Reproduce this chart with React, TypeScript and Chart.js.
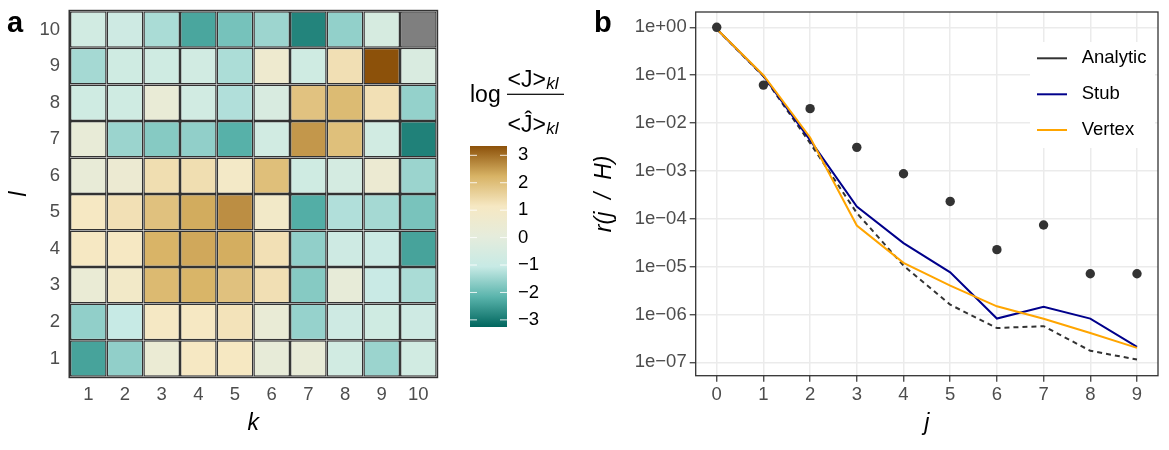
import React, { useEffect, useRef } from "react";
import { Chart, registerables } from "chart.js";

Chart.register(...registerables);

const FONT = "'Liberation Sans', Arial, Helvetica, sans-serif";
Chart.defaults.font.family = FONT;
Chart.defaults.color = "#4D4D4D";

// ---- Panel a: log ratio of observed to expected mean joint counts ----
const kClasses = ["1", "2", "3", "4", "5", "6", "7", "8", "9", "10"];
const lClasses = [1, 2, 3, 4, 5, 6, 7, 8, 9, 10];
const lTickLabels = ["1", "2", "3", "4", "5", "6", "7", "8", "9", "10"];

// one row per l class, columns follow k = 1..10 (null = not estimable)
const logRatioL1 = [-2.4, -1.6, 0.4, 1.14, 1.15, 0.2, 0.25, -0.7, -1.5, -0.7];
const logRatioL2 = [-1.6, -1.05, 1.1, 1.14, 1.25, 0.3, -1.55, -0.8, -0.75, -0.8];
const logRatioL3 = [0.35, 0.9, 2.1, 2.2, 1.95, 1.32, -1.72, 0.2, -1.0, -1.35];
const logRatioL4 = [1.14, 1.14, 2.22, 2.36, 2.3, 1.3, -1.6, -0.8, -0.9, -2.4];
const logRatioL5 = [1.14, 1.3, 1.95, 2.32, 2.65, 0.9, -2.25, -1.28, -1.4, -1.85];
const logRatioL6 = [0.25, 0.5, 1.35, 1.35, 0.95, 2.0, -0.75, -0.6, 0.5, -1.5];
const logRatioL7 = [0.25, -1.5, -1.72, -1.6, -2.2, -0.7, 2.55, 1.98, -0.7, -2.88];
const logRatioL8 = [-0.75, -0.75, 0.3, -0.7, -1.28, -0.45, 1.92, 2.08, 1.3, -1.57];
const logRatioL9 = [-1.4, -0.75, -0.75, -0.7, -1.33, 0.6, -0.75, 1.32, 3.34, -0.4];
const logRatioL10 = [-0.7, -0.8, -1.35, -2.36, -1.88, -1.48, -2.84, -1.59, -0.5, null];
const logRatioRows: (number | null)[][] = [
  logRatioL1, logRatioL2, logRatioL3, logRatioL4, logRatioL5,
  logRatioL6, logRatioL7, logRatioL8, logRatioL9, logRatioL10,
];

const colorbarBreaks = [-3, -2, -1, 0, 1, 2, 3];
const colorbarLabels = ["\u22123", "\u22122", "\u22121", "0", "1", "2", "3"];
const colorLimits = [-3.26, 3.34];
const paletteStops = ["#01665E", "#5AB4AC", "#C7EAE5", "#E5ECDC", "#F6E8C3", "#D8B365", "#8C510A"];
const missingFill = "#7F7F7F";

// ---- Panel b: r(j / H) by j ----
const jValues = [0, 1, 2, 3, 4, 5, 6, 7, 8, 9];
const jTickLabels = ["0", "1", "2", "3", "4", "5", "6", "7", "8", "9"];
const rTickValues = [1, 1e-1, 1e-2, 1e-3, 1e-4, 1e-5, 1e-6, 1e-7];
const rTickLabels = ["1e+00", "1e\u221201", "1e\u221202", "1e\u221203", "1e\u221204", "1e\u221205", "1e\u221206", "1e\u221207"];
const rObserved = [1.0, 0.062, 0.02, 0.0031, 8.7e-4, 2.3e-4, 2.26e-5, 7.4e-5, 7.1e-6, 7.1e-6];
const rAnalytic = [0.92, 0.095, 0.0038, 1.32e-4, 1.05e-5, 1.6e-6, 5.2e-7, 5.7e-7, 1.74e-7, 1.14e-7];
const rStub = [0.92, 0.097, 0.0044, 1.8e-4, 3.1e-5, 7.6e-6, 8.2e-7, 1.44e-6, 8.2e-7, 2.1e-7];
const rVertex = [0.92, 0.1, 0.005, 7.2e-5, 1.2e-5, 4.0e-6, 1.48e-6, 8.1e-7, 4.1e-7, 2.0e-7];
const seriesNames = ["Analytic", "Stub", "Vertex"];
const seriesColors = ["#333333", "#00008B", "#FFA500"];

function hexToRgb(h: string): number[] {
  const n = parseInt(h.slice(1), 16);
  return [(n >> 16) & 255, (n >> 8) & 255, n & 255];
}

function fillFor(v: number | null): string {
  if (v === null || v === undefined) return missingFill;
  const [lo, hi] = colorLimits;
  const t = Math.min(1, Math.max(0, (v - lo) / (hi - lo)));
  const n = paletteStops.length - 1;
  const pos = t * n;
  const i = Math.min(n - 1, Math.floor(pos));
  const f = pos - i;
  const a = hexToRgb(paletteStops[i]);
  const b = hexToRgb(paletteStops[i + 1]);
  const c = a.map((x, k) => Math.round(x + (b[k] - x) * f));
  return `rgb(${c[0]},${c[1]},${c[2]})`;
}

const tickFont = { size: 18.5, family: FONT };
const titleFont = { size: 23, style: "italic" as const, family: FONT };
const tileBorder = 1.5;

// outline, colour bar, fill title and panel tag for the heatmap
const heatOverlay = {
  id: "heatOverlay",
  afterDraw(chart: any) {
    const ctx = chart.ctx as CanvasRenderingContext2D;
    const area = chart.chartArea;
    ctx.save();
    ctx.strokeStyle = "#333333";
    ctx.lineWidth = tileBorder;
    const h = tileBorder / 2;
    ctx.strokeRect(area.left - h, area.top - h, area.right - area.left + tileBorder, area.bottom - area.top + tileBorder);

    // colour bar
    const barX = 470, barW = 37, barTop = 146, barBottom = 327;
    const grad = ctx.createLinearGradient(0, barBottom, 0, barTop);
    paletteStops.forEach((c, i) => grad.addColorStop(i / (paletteStops.length - 1), c));
    ctx.fillStyle = grad;
    ctx.fillRect(barX, barTop, barW, barBottom - barTop);
    const [lo, hi] = colorLimits;
    ctx.strokeStyle = "rgba(255,255,255,0.85)";
    ctx.lineWidth = 1;
    ctx.font = `18.5px ${FONT}`;
    ctx.fillStyle = "#000000";
    ctx.textAlign = "left";
    ctx.textBaseline = "middle";
    colorbarBreaks.forEach((v, i) => {
      const y = barBottom - ((v - lo) / (hi - lo)) * (barBottom - barTop);
      ctx.beginPath();
      ctx.moveTo(barX, y);
      ctx.lineTo(barX + 7, y);
      ctx.moveTo(barX + barW - 7, y);
      ctx.lineTo(barX + barW, y);
      ctx.stroke();
      ctx.fillText(colorbarLabels[i], 518, y);
    });

    // fill title: log <J>_kl / <Ĵ>_kl
    ctx.textBaseline = "alphabetic";
    ctx.font = `23px ${FONT}`;
    ctx.fillText("log", 470, 101.7);
    ctx.fillText("<J>", 507.5, 86.7);
    const wNum = ctx.measureText("<J>").width;
    ctx.fillText("<\u0134>", 507.5, 131.7);
    const wDen = ctx.measureText("<\u0134>").width;
    ctx.fillRect(507, 93.7, 57, 1.2);
    ctx.font = `italic 17px ${FONT}`;
    ctx.fillText("kl", 507.5 + wNum + 0.5, 89.3);
    ctx.fillText("kl", 507.5 + wDen + 0.5, 134.2);

    // panel tag
    ctx.font = `bold 29px ${FONT}`;
    ctx.fillText("a", 7, 31.7);
    ctx.restore();
  },
};

// panel border, key and panel tag for the line chart
const lineOverlay = {
  id: "lineOverlay",
  afterDraw(chart: any) {
    const ctx = chart.ctx as CanvasRenderingContext2D;
    const area = chart.chartArea;
    ctx.save();
    ctx.strokeStyle = "#333333";
    ctx.lineWidth = 1.3;
    ctx.strokeRect(area.left, area.top, area.right - area.left, area.bottom - area.top);

    // key
    ctx.fillStyle = "#FFFFFF";
    ctx.fillRect(440, 42, 125, 106);
    const keyY = [58.3, 94.3, 130];
    ctx.font = `18.5px ${FONT}`;
    ctx.textAlign = "left";
    ctx.textBaseline = "middle";
    seriesNames.forEach((name, i) => {
      ctx.strokeStyle = seriesColors[i];
      ctx.lineWidth = 2;
      ctx.beginPath();
      ctx.moveTo(447, keyY[i]);
      ctx.lineTo(477, keyY[i]);
      ctx.stroke();
      ctx.fillStyle = "#000000";
      ctx.fillText(name, 491.7, keyY[i]);
    });

    ctx.textBaseline = "alphabetic";
    ctx.fillStyle = "#000000";
    ctx.font = `bold 29px ${FONT}`;
    ctx.fillText("b", 4, 31.7);
    ctx.restore();
  },
};

export default function App() {
  const heatRef = useRef<HTMLCanvasElement>(null);
  const lineRef = useRef<HTMLCanvasElement>(null);

  useEffect(() => {
    document.body.style.margin = "0";

    const heatDatasets = lClasses.map((l, r) => ({
      label: `l = ${l}`,
      data: logRatioRows[r].map(() => [l - 0.5, l + 0.5]),
      backgroundColor: logRatioRows[r].map(fillFor),
      borderColor: "#333333",
      borderWidth: tileBorder,
      borderSkipped: false,
      inflateAmount: 0,
      barPercentage: 1,
      categoryPercentage: 1,
      grouped: false,
    }));

    const heat = new Chart(heatRef.current as HTMLCanvasElement, {
      type: "bar",
      data: { labels: kClasses, datasets: heatDatasets as any },
      options: {
        animation: false,
        responsive: false,
        events: [],
        layout: { padding: { left: 0, right: 153.3, top: 11.3, bottom: 0 } },
        plugins: { legend: { display: false }, tooltip: { enabled: false } },
        scales: {
          x: {
            type: "category",
            offset: true,
            grid: { display: false, drawTicks: false },
            border: { display: false },
            ticks: { color: "#4D4D4D", font: tickFont, padding: 7.2, maxRotation: 0, autoSkip: false },
            title: { display: true, text: "k", color: "#000000", font: titleFont, padding: { top: 0, bottom: 12.2 } },
            afterFit: (s: any) => {
              s.height = 73.3;
              s.paddingLeft = 0;
              s.paddingRight = 0;
            },
          },
          y: {
            type: "linear",
            min: 0.5,
            max: 10.5,
            afterBuildTicks: (s: any) => {
              s.ticks = lClasses.map((v) => ({ value: v }));
            },
            grid: { display: false, drawTicks: false },
            border: { display: false },
            ticks: {
              color: "#4D4D4D",
              font: tickFont,
              padding: 10,
              callback: (_v: any, i: number) => lTickLabels[i],
            },
            title: { display: true, text: "l", color: "#000000", font: titleFont, padding: { top: 6.2, bottom: 0 } },
            afterFit: (s: any) => {
              s.width = 70;
              s.paddingTop = 0;
              s.paddingBottom = 0;
            },
          },
        },
      },
      plugins: [heatOverlay],
    });

    const toPoints = (vals: number[]) => jValues.map((j, i) => ({ x: j, y: vals[i] }));
    const gridStyle = {
      color: "#EBEBEB",
      lineWidth: 1.5,
      tickColor: "#333333",
      tickLength: 6,
      tickWidth: 1.2,
    };

    const line = new Chart(lineRef.current as HTMLCanvasElement, {
      type: "line",
      data: {
        datasets: [
          {
            label: "Observed",
            data: toPoints(rObserved),
            showLine: false,
            pointRadius: 4.7,
            pointBackgroundColor: "#333333",
            pointBorderWidth: 0,
            order: 0,
          },
          {
            label: seriesNames[0],
            data: toPoints(rAnalytic),
            borderColor: seriesColors[0],
            borderWidth: 2,
            borderDash: [5, 4],
            pointRadius: 0,
            tension: 0,
            order: 3,
          },
          {
            label: seriesNames[1],
            data: toPoints(rStub),
            borderColor: seriesColors[1],
            borderWidth: 2,
            pointRadius: 0,
            tension: 0,
            order: 2,
          },
          {
            label: seriesNames[2],
            data: toPoints(rVertex),
            borderColor: seriesColors[2],
            borderWidth: 2,
            pointRadius: 0,
            tension: 0,
            order: 1,
          },
        ] as any,
      },
      options: {
        animation: false,
        responsive: false,
        events: [],
        layout: { padding: { left: 0, right: 11, top: 12, bottom: 0 } },
        plugins: { legend: { display: false }, tooltip: { enabled: false } },
        scales: {
          x: {
            type: "linear",
            min: -0.45,
            max: 9.45,
            afterBuildTicks: (s: any) => {
              s.ticks = jValues.map((v) => ({ value: v }));
            },
            grid: gridStyle,
            border: { display: false },
            ticks: {
              color: "#4D4D4D",
              font: tickFont,
              padding: 2.2,
              maxRotation: 0,
              callback: (_v: any, i: number) => jTickLabels[i],
            },
            title: { display: true, text: "j", color: "#000000", font: titleFont, padding: { top: 0, bottom: 12.2 } },
            afterFit: (s: any) => {
              s.height = 74.3;
              s.paddingLeft = 0;
              s.paddingRight = 0;
            },
          },
          y: {
            type: "logarithmic",
            min: 5.25e-8,
            max: 2.09,
            afterBuildTicks: (s: any) => {
              s.ticks = rTickValues.map((v) => ({ value: v }));
            },
            grid: gridStyle,
            border: { display: false },
            ticks: {
              color: "#4D4D4D",
              font: tickFont,
              padding: 3,
              callback: (_v: any, i: number) => rTickLabels[i],
            },
            title: { display: true, text: "r(j  /  H)", color: "#000000", font: titleFont, padding: { top: 1.2, bottom: 0 } },
            afterFit: (s: any) => {
              s.width = 105.7;
              s.paddingTop = 0;
              s.paddingBottom = 0;
            },
          },
        },
      },
      plugins: [lineOverlay],
    });

    return () => {
      heat.destroy();
      line.destroy();
    };
  }, []);

  return (
    <div style={{ position: "relative", width: 1169, height: 450, background: "#FFFFFF", overflow: "hidden" }}>
      <canvas ref={heatRef} width={590} height={450} style={{ position: "absolute", left: 0, top: 0, width: 590, height: 450 }} />
      <canvas ref={lineRef} width={579} height={450} style={{ position: "absolute", left: 590, top: 0, width: 579, height: 450 }} />
    </div>
  );
}
